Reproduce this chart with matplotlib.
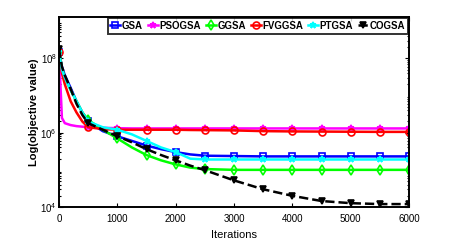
import numpy as np
import matplotlib
matplotlib.use("Agg")
import matplotlib.pyplot as plt
from matplotlib.ticker import LogLocator, FixedLocator

plt.rcParams['font.family'] = ['Liberation Sans Narrow', 'Liberation Sans', 'DejaVu Sans']

# iterations
iters = [0, 50, 100, 200, 300, 400, 500, 750, 1000, 1250, 1500, 1750, 2000,
         2250, 2500, 3000, 3500, 4000, 4500, 5000, 5500, 6000]

gsa = [1.5e8, 6e7, 3.5e7, 1.6e7, 7e6, 3.5e6, 2.0e6, 1.1e6, 8e5, 6e5, 4.5e5, 3.6e5,
       3e5, 2.6e5, 2.4e5, 2.35e5, 2.3e5, 2.3e5, 2.3e5, 2.3e5, 2.3e5, 2.3e5]
psogsa = [1.5e8, 2.5e6, 1.8e6, 1.6e6, 1.5e6, 1.45e6, 1.4e6, 1.35e6, 1.32e6, 1.3e6, 1.3e6,
          1.3e6, 1.3e6, 1.3e6, 1.3e6, 1.3e6, 1.3e6, 1.3e6, 1.3e6, 1.3e6, 1.3e6, 1.3e6]
ggsa = [1.6e8, 5.5e7, 3e7, 1.4e7, 7e6, 3.5e6, 2.2e6, 1.2e6, 7e5, 4e5, 2.5e5, 1.8e5,
        1.4e5, 1.15e5, 1.05e5, 1e5, 1e5, 1e5, 1e5, 1e5, 1e5, 1e5]
fvggsa = [1.5e8, 4e7, 2e7, 7e6, 3.5e6, 2e6, 1.4e6, 1.25e6, 1.2e6, 1.2e6, 1.2e6, 1.2e6,
          1.2e6, 1.18e6, 1.17e6, 1.15e6, 1.1e6, 1.08e6, 1.07e6, 1.06e6, 1.05e6, 1.05e6]
ptgsa = [1.5e8, 5e7, 3e7, 1.4e7, 7e6, 3.5e6, 2e6, 1.4e6, 1.2e6, 9e5, 6e5, 4e5,
         3e5, 2e5, 1.9e5, 1.9e5, 1.9e5, 1.9e5, 1.9e5, 1.9e5, 1.9e5, 1.9e5]
cogsa = [1.8e8, 6e7, 3.5e7, 1.5e7, 6e6, 3e6, 1.8e6, 1.2e6, 8e5, 5.5e5, 3.6e5, 2.5e5,
         1.8e5, 1.3e5, 9.8e4, 5.2e4, 3e4, 2e4, 1.45e4, 1.27e4, 1.2e4, 1.2e4]

names = ['GSA', 'PSOGSA', 'GGSA', 'FVGGSA', 'PTGSA', 'COGSA']
series = [gsa, psogsa, ggsa, fvggsa, ptgsa, cogsa]
colors = ['#0000ff', '#ff00ff', '#00ff00', '#ff0000', '#00ffff', '#000000']
markers = ['s', '*', 'd', 'o', '*', 'v']
styles = ['-', '-', '-', '-', '-', '--']

# markers every 500 iterations
mk = [i for i, v in enumerate(iters) if v % 500 == 0]

fig = plt.figure(figsize=(4.52, 2.45), dpi=100)
ax = fig.add_axes([0.1305, 0.155, 0.7745, 0.776])

for name, ys, c, m, ls in zip(names, series, colors, markers, styles):
    ax.plot(iters, ys, color=c, ls=ls, lw=1.8, marker=m, markevery=mk,
            markersize=5, markerfacecolor='none' if m in 's o d' else c,
            markeredgewidth=1.2, label=name)

ax.set_yscale('log')
ax.set_xlim(0, 6000)
ax.set_ylim(1e4, 1.3e9)
ax.set_xticks([0, 1000, 2000, 3000, 4000, 5000, 6000])
ax.yaxis.set_major_locator(FixedLocator([1e4, 1e6, 1e8]))
ax.yaxis.set_minor_locator(LogLocator(base=10, subs=np.arange(2, 10), numticks=20))
ax.tick_params(which='both', direction='in', top=True, right=True, labelsize=7, width=0.8)
ax.tick_params(which='major', length=3)
ax.tick_params(axis='x', pad=5)
ax.tick_params(axis='y', pad=1.5)
ax.tick_params(which='minor', length=1.5)
for s in ax.spines.values():
    s.set_linewidth(1.4)

ax.set_xlabel('Iterations', fontsize=8)
ax.xaxis.set_label_coords(0.5, -0.12)
ax.set_ylabel('Log(objective value)', fontsize=8, fontweight='bold')
ax.yaxis.set_label_coords(-0.058, 0.5)

leg = ax.legend(loc='upper right', ncol=6, frameon=True, fancybox=False,
                handlelength=1.0, handletextpad=0.15, columnspacing=0.55,
                borderpad=0.3, borderaxespad=0.1, edgecolor='black',
                prop={'weight': 'bold', 'size': 7})
leg.get_frame().set_linewidth(1.4)

fig.savefig('out.png', dpi=100)
